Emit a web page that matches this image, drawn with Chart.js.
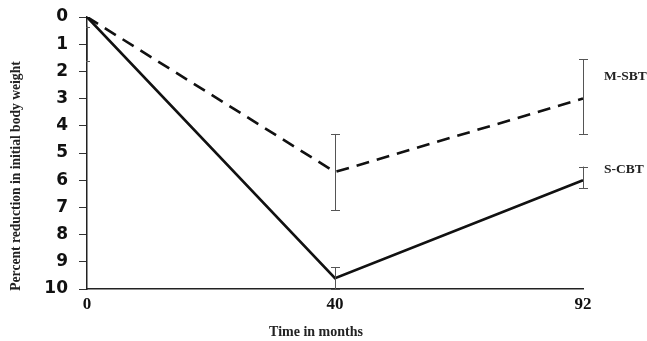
<!DOCTYPE html>
<html><head><meta charset="utf-8">
<script src="https://cdn.jsdelivr.net/npm/chart.js@4/dist/chart.umd.min.js"></script>
<style>html,body{margin:0;padding:0;background:#fff}#c{display:block}</style>
</head><body>
<canvas id="c" width="647" height="341"></canvas>
<script>
const months = ['0', '40', '92'];
const yTicks = [0,1,2,3,4,5,6,7,8,9,10];
const sCBT = [0, 9.6, 6.0];
const sCBTLow = [null, 9.2, 5.5];
const sCBTHigh = [null, 10.0, 6.3];
const mSBT = [0, 5.7, 3.0];
const mSBTLow = [0.35, 4.3, 1.55];
const mSBTHigh = [1.6, 7.1, 4.3];
const seriesNames = ['M-SBT', 'S-CBT'];

const errPlugin = {
  id: 'err',
  afterDatasetsDraw(chart) {
    const ctx = chart.ctx, x = chart.scales.x, y = chart.scales.y;
    const sets = [[mSBTLow, mSBTHigh], [sCBTLow, sCBTHigh]];
    ctx.save();
    ctx.strokeStyle = '#555';
    ctx.lineWidth = 1;
    sets.forEach(([lo, hi]) => {
      lo.forEach((v, i) => {
        if (v === null) return;
        const px = x.getPixelForValue(i);
        const y1 = y.getPixelForValue(v), y2 = y.getPixelForValue(hi[i]);
        ctx.beginPath();
        ctx.moveTo(px + 0.5, y1); ctx.lineTo(px + 0.5, y2);
        if (i > 0) {
          ctx.moveTo(px - 4, Math.round(y1) + 0.5); ctx.lineTo(px + 5, Math.round(y1) + 0.5);
          ctx.moveTo(px - 4, Math.round(y2) + 0.5); ctx.lineTo(px + 5, Math.round(y2) + 0.5);
        } else {
          ctx.moveTo(px - 1, Math.round(y1) + 0.5); ctx.lineTo(px + 3, Math.round(y1) + 0.5);
          ctx.moveTo(px - 1, Math.round(y2) + 0.5); ctx.lineTo(px + 3, Math.round(y2) + 0.5);
        }
        ctx.stroke();
      });
    });
    // series labels and axis titles
    ctx.fillStyle = '#222';
    ctx.font = 'bold 13.5px "Liberation Serif"';
    ctx.textBaseline = 'middle';
    ctx.textAlign = 'left';
    ctx.fillText(seriesNames[0], 604, 77);
    ctx.fillText(seriesNames[1], 604, 170);
    ctx.textAlign = 'center';
    ctx.font = 'bold 14px "Liberation Serif"';
    ctx.fillText('Time in months', 316, 332);
    ctx.translate(16, 176);
    ctx.rotate(-Math.PI / 2);
    ctx.font = 'bold 13.6px "Liberation Serif"';
    ctx.fillText('Percent reduction in initial body weight', 0, 0);
    ctx.restore();
  }
};

new Chart(document.getElementById('c'), {
  type: 'line',
  data: {
    labels: months,
    datasets: [
      { label: seriesNames[0], data: mSBT, borderColor: '#111', borderWidth: 2.6, borderDash: [13, 8], pointRadius: 0, fill: false, tension: 0 },
      { label: seriesNames[1], data: sCBT, borderColor: '#111', borderWidth: 2.6, pointRadius: 0, fill: false, tension: 0 }
    ]
  },
  options: {
    responsive: false,
    animation: false,
    layout: { padding: { top: 17, right: 64, left: 0, bottom: 0 } },
    plugins: { legend: { display: false }, tooltip: { enabled: false } },
    scales: {
      x: {
        type: 'category',
        offset: false,
        grid: { display: false, drawTicks: false },
        border: { display: true, color: '#222', width: 1.5 },
        ticks: { color: '#111', font: { family: 'Liberation Serif', weight: 'bold', size: 17 }, padding: 5, maxRotation: 0 },
        afterFit(s) { s.height = 52; }
      },
      y: {
        reverse: true,
        min: 0, max: 10,
        afterBuildTicks(s) { s.ticks = yTicks.map(v => ({ value: v })); },
        grid: { drawOnChartArea: false, tickLength: 8, color: '#333', tickColor: '#333' },
        border: { display: true, color: '#222', width: 1.5 },
        ticks: { color: '#111', font: { family: 'DejaVu Sans', weight: 'bold', size: 17 }, padding: 11 },
        afterFit(s) { s.width = 87; s.paddingTop = 0; s.paddingBottom = 0; }
      }
    }
  },
  plugins: [errPlugin]
});
</script>
</body></html>
